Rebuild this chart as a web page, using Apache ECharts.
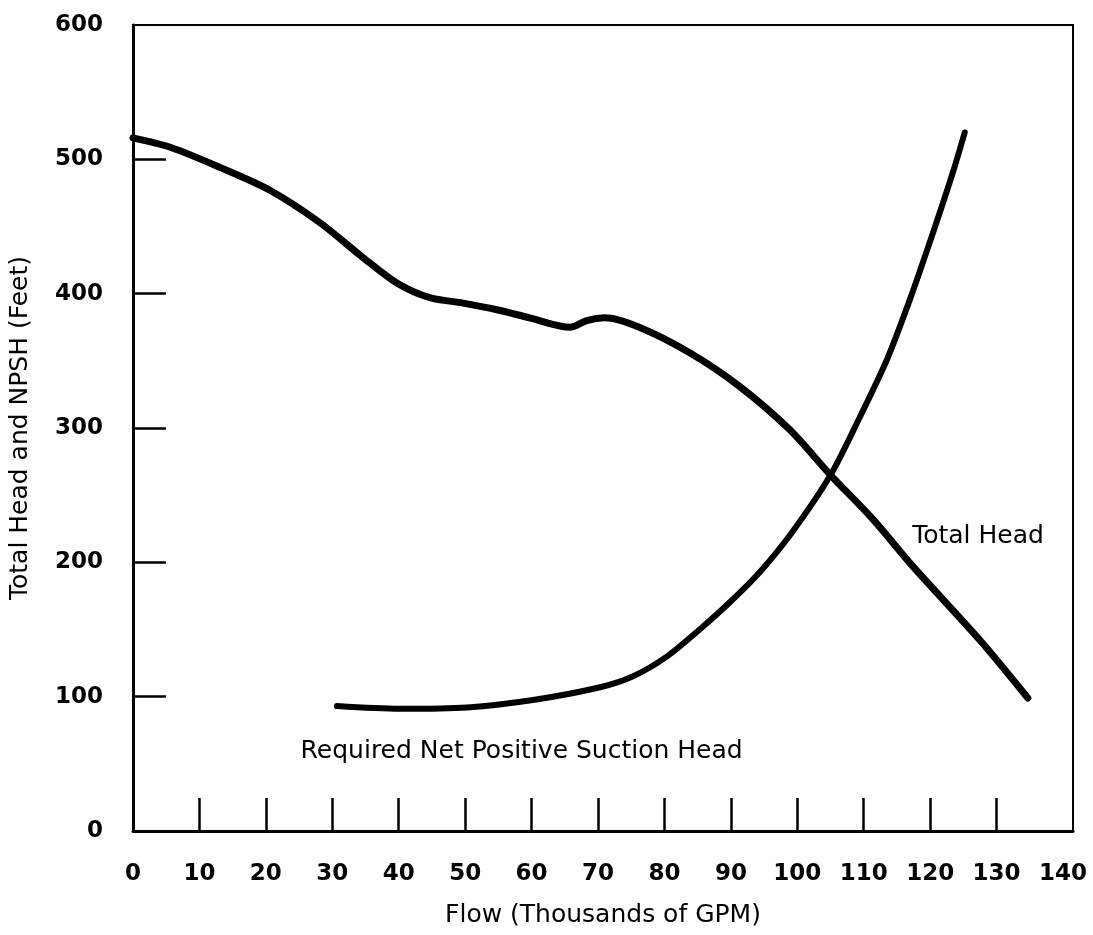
<!DOCTYPE html>
<html>
<head>
<meta charset="utf-8">
<title>Total Head and NPSH</title>
<script src="https://cdn.jsdelivr.net/npm/echarts@6/dist/echarts.min.js"></script>
<style>
  html, body { margin: 0; padding: 0; background: #fff; }
  #chart { width: 1093px; height: 935px; }
</style>
</head>
<body>
<div id="chart"></div>
<script>
  // flow in thousands of GPM, head in feet
  const flowHead = [0, 5.6, 13.1, 20.6, 28.1, 34.6, 39.7, 44.7, 49.7, 54.8, 59.7, 65.8, 68.3, 71.0, 76.2, 83.8, 91.3, 98.8, 105.0, 111.4, 117.4, 127.5, 134.7]
  const totalHead = [516, 509, 494, 477, 453, 427, 408, 397, 393, 388, 382, 375, 380, 382, 375, 356, 331, 299, 265, 232, 197, 142, 99]

  const flowNpsh = [30.7, 40.2, 50.3, 60.2, 70.3, 75.2, 80.4, 85.3, 90.0, 94.4, 99.3, 105.0, 109.4, 113.5, 116.9, 120.4, 123.4, 125.2]
  const npsh = [93, 91, 92, 97.5, 107, 115, 130, 150, 171, 193, 223, 265, 308, 351, 395, 445, 490, 520]

  const xTickLabels = [0, 10, 20, 30, 40, 50, 60, 70, 80, 90, 100, 110, 120, 130, 140]
  const xTickMarks = [10, 20, 30, 40, 50, 60, 70, 80, 90, 100, 110, 120, 130]
  const yTickLabels = [0, 100, 200, 300, 400, 500, 600]
  const yTickMarks = [100, 200, 300, 400, 500]

  const noteText = ['Total Head', 'Required Net Positive Suction Head']
  const noteAt = [[127.2, 219], [58.5, 59]]

  const font = 'DejaVu Sans'

  const chart = echarts.init(document.getElementById('chart'))
  const option = {
    backgroundColor: '#fff',
    animation: false,
    grid: {
      left: 133,
      right: 20,
      top: 25,
      bottom: 104,
      show: true,
      borderColor: '#000',
      borderWidth: 2
    },
    xAxis: {
      type: 'value',
      min: 0,
      max: 141.5,
      interval: 10,
      name: 'Flow (Thousands of GPM)',
      nameLocation: 'middle',
      nameGap: 72,
      nameTextStyle: { color: '#000', fontFamily: font, fontSize: 25 },
      axisLine: { show: true, lineStyle: { color: '#000', width: 3 } },
      axisTick: {
        show: true,
        inside: true,
        length: 33,
        customValues: xTickMarks,
        lineStyle: { color: '#000', width: 2.5 }
      },
      axisLabel: {
        customValues: xTickLabels,
        margin: 32,
        color: '#000',
        fontFamily: font,
        fontWeight: 'bold',
        fontSize: 23
      },
      splitLine: { show: false }
    },
    yAxis: {
      type: 'value',
      min: 0,
      max: 600,
      interval: 100,
      name: 'Total Head and NPSH (Feet)',
      nameLocation: 'middle',
      nameGap: 100,
      nameTextStyle: { color: '#000', fontFamily: font, fontSize: 25 },
      axisLine: { show: true, lineStyle: { color: '#000', width: 3 } },
      axisTick: {
        show: true,
        inside: true,
        length: 33,
        customValues: yTickMarks,
        lineStyle: { color: '#000', width: 2.5 }
      },
      axisLabel: {
        customValues: yTickLabels,
        margin: 30,
        color: '#000',
        fontFamily: font,
        fontWeight: 'bold',
        fontSize: 23
      },
      splitLine: { show: false }
    },
    series: [
      {
        name: 'Total Head',
        type: 'line',
        smooth: 0.3,
        symbol: 'none',
        lineStyle: { color: '#000', width: 7, cap: 'round', join: 'round' },
        data: flowHead.map((x, i) => [x, totalHead[i]])
      },
      {
        name: 'Required Net Positive Suction Head',
        type: 'line',
        smooth: 0.3,
        symbol: 'none',
        lineStyle: { color: '#000', width: 6, cap: 'round', join: 'round' },
        data: flowNpsh.map((x, i) => [x, npsh[i]])
      }
    ]
  }
  chart.setOption(option)

  // curve labels, placed through the grid's own scales
  chart.setOption({
    graphic: noteText.map((t, i) => {
      const pt = chart.convertToPixel({ gridIndex: 0 }, noteAt[i])
      return {
        type: 'text',
        x: pt[0],
        y: pt[1],
        silent: true,
        style: {
          text: t,
          fill: '#000',
          font: '25px "DejaVu Sans"',
          align: 'center',
          verticalAlign: 'middle'
        }
      }
    })
  })
</script>
</body>
</html>
